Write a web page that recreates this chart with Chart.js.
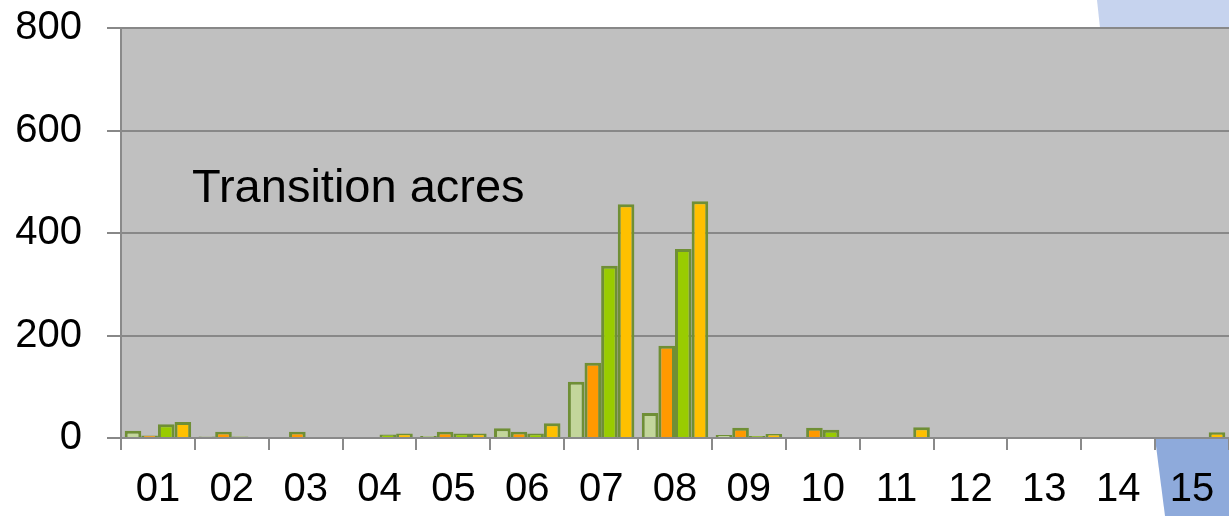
<!DOCTYPE html>
<html>
<head>
<meta charset="utf-8">
<script src="https://cdn.jsdelivr.net/npm/chart.js@4"></script>
<style>
html,body{margin:0;padding:0;background:#fff;}
#wrap{width:1229px;height:516px;position:relative;}
</style>
</head>
<body>
<div id="wrap"><canvas id="c" width="1229" height="516"></canvas></div>
<script>
const categories = ["01","02","03","04","05","06","07","08","09","10","11","12","13","14","15"];
const seriesA = [14, 3, 0, 0, 4, 19, 110, 49, 6, 0, 0, 0, 0, 0, 0];
const seriesB = [5, 12, 12, 0, 12, 12, 147, 180, 20, 20, 0, 0, 0, 0, 0];
const seriesC = [27, 3, 0, 7, 9, 9, 336, 369, 4, 16, 0, 0, 0, 0, 0];
const seriesD = [31, 0, 0, 9, 9, 29, 456, 462, 8, 0, 21, 0, 0, 0, 11];
const yTicks = [0, 200, 400, 600, 800];
const chartLabel = "Transition acres";

const FONT = "'Liberation Sans', Arial, sans-serif";
const border = "#6f8f35";

const decor = {
  id: 'decor',
  beforeDraw(chart) {
    const {ctx, chartArea: a} = chart;
    ctx.save();
    ctx.fillStyle = "#c6d3ee";
    ctx.beginPath();
    ctx.moveTo(1097, 0); ctx.lineTo(1229, 0); ctx.lineTo(1229, a.top); ctx.lineTo(1100, a.top);
    ctx.closePath(); ctx.fill();
    ctx.fillStyle = "#c0c0c0";
    ctx.fillRect(a.left, a.top, a.right - a.left, a.bottom - a.top);
    ctx.fillStyle = "#8eaadb";
    ctx.beginPath();
    ctx.moveTo(1155, a.bottom); ctx.lineTo(1229, a.bottom); ctx.lineTo(1229, 516); ctx.lineTo(1165, 516);
    ctx.closePath(); ctx.fill();
    ctx.restore();
  },
  afterDatasetsDraw(chart) {
    const {ctx, chartArea: a} = chart;
    ctx.save();
    ctx.fillStyle = "#000";
    ctx.font = "47px " + FONT;
    ctx.textBaseline = "alphabetic";
    ctx.fillText(chartLabel, a.left + 71, 202);
    ctx.restore();
  }
};

new Chart(document.getElementById('c'), {
  type: 'bar',
  data: {
    labels: categories,
    datasets: [
      {data: seriesA, backgroundColor: "#c3d69b", borderColor: border, borderWidth: 3},
      {data: seriesB, backgroundColor: "#ff9900", borderColor: border, borderWidth: 3},
      {data: seriesC, backgroundColor: "#99cc00", borderColor: border, borderWidth: 3},
      {data: seriesD, backgroundColor: "#ffc000", borderColor: border, borderWidth: 3}
    ]
  },
  options: {
    responsive: false,
    animation: false,
    devicePixelRatio: 1,
    layout: {padding: {top: 28, right: 0, left: 0, bottom: 0}},
    datasets: {bar: {categoryPercentage: 0.9, barPercentage: 1.0, borderSkipped: 'bottom'}},
    plugins: {legend: {display: false}, tooltip: {enabled: false}, title: {display: false}},
    scales: {
      x: {
        offset: true,
        grid: {offset: true, drawOnChartArea: false, drawTicks: true, tickLength: 12, color: "#8a8a8a", lineWidth: 2},
        border: {display: true, color: "#8a8a8a", width: 2},
        ticks: {color: "#000", font: {size: 40, family: FONT}, padding: 16, maxRotation: 0, autoSkip: false},
        afterFit(scale) { scale.height = 78; scale.paddingLeft = 0; scale.paddingRight = 0; }
      },
      y: {
        min: 0, max: 800,
        afterBuildTicks(scale) { scale.ticks = yTicks.map(v => ({value: v})); },
        grid: {color: "#888888", lineWidth: 2, drawTicks: true, tickLength: 14},
        border: {display: true, color: "#8a8a8a", width: 2},
        ticks: {color: "#000", font: {size: 40, family: FONT}, padding: 25},
        afterFit(scale) { scale.width = 121; scale.paddingTop = 0; scale.paddingBottom = 0; }
      }
    }
  },
  plugins: [decor]
});
</script>
</body>
</html>
